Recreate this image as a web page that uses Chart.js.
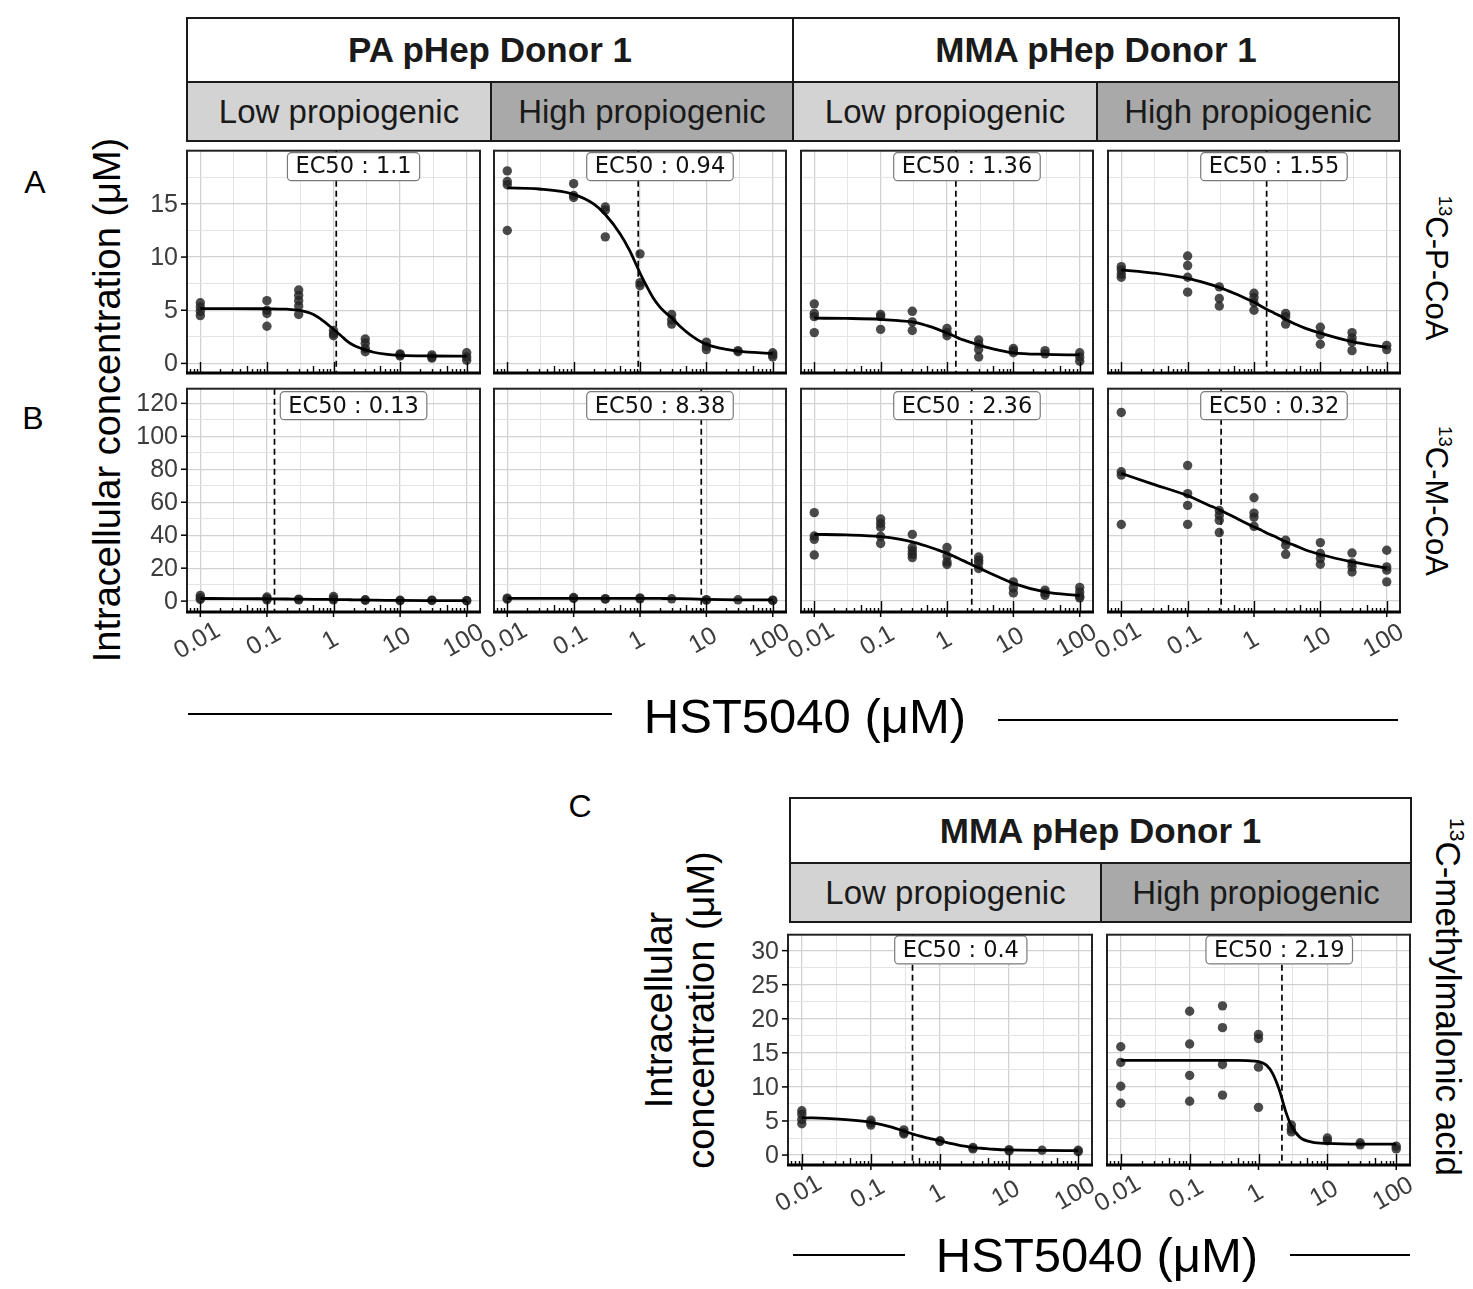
<!DOCTYPE html>
<html>
<head>
<meta charset="utf-8">
<script src="https://cdn.jsdelivr.net/npm/chart.js@4.4.1/dist/chart.umd.min.js"></script>
<style>
body { margin: 0; background: #fff; }
#fig { position: relative; width: 1473px; height: 1289px; background: #fff; overflow: hidden;
  font-family: "Liberation Sans", Arial, sans-serif; color: #000; }
.strip { position: absolute; box-sizing: border-box; border: 2px solid #1a1a1a; display: flex;
  align-items: center; justify-content: center; font-size: 33px; color: #1a1a1a; white-space: nowrap; }
.strip.top { background: #fff; font-weight: bold; font-size: 35px; }
.strip.low { background: #d3d3d3; }
.strip.high { background: #a9a9a9; }
.lbl { position: absolute; white-space: nowrap; transform: translate(-50%, -50%); line-height: 1; }
.rotl { transform: translate(-50%, -50%) rotate(-90deg); }
.rotr { transform: translate(-50%, -50%) rotate(90deg); }
.panel { position: absolute; }
.hline { position: absolute; height: 2px; background: #000; }
sup { font-size: 0.6em; vertical-align: 0.7em; line-height: 0; }
</style>
</head>
<body>
<div id="fig"></div>
<script>
// doses used in the assay and the x grid the fitted curves were read on
const doses = [0.01, 0.1, 0.3, 1, 3, 10, 30, 100];
const fitDoses = [0.01, 0.03, 0.1, 0.2, 0.3, 0.5, 0.7, 1, 1.3, 1.6, 2, 2.5, 3, 4, 6, 10, 30, 100];
const xTickValues = [0.01, 0.1, 1, 10, 100];
const xTickLabels = ['0.01', '0.1', '1', '10', '100'];
const yTicksPCoA = [0, 5, 10, 15];
const yTicksMCoA = [0, 20, 40, 60, 80, 100, 120];
const yTicksMMA = [0, 5, 10, 15, 20, 25, 30];
const ec50Values = [1.1, 0.94, 1.36, 1.55, 0.13, 8.38, 2.36, 0.32, 0.4, 2.19];

// replicates per dose (13C-P-CoA)
const paLowPCoA = [[5.7, 5.3, 4.9, 4.5], [5.9, 5.0, 4.7, 3.5], [6.9, 6.4, 5.9, 5.4, 4.6], [3.1, 2.8, 2.6],
  [2.3, 1.9, 1.4, 1.1], [0.9, 0.8, 0.7], [0.8, 0.6, 0.5], [1.0, 0.6, 0.3]];
const paHighPCoA = [[18.1, 17.1, 16.8, 12.5], [16.9, 15.8, 15.6], [14.7, 14.4, 11.9], [10.3, 7.6, 7.3],
  [4.6, 4.1, 3.7], [2.0, 1.6, 1.3], [1.2, 1.1], [1.0, 0.8, 0.6]];
const mmaLowPCoA = [[5.6, 4.7, 4.4, 2.9], [4.6, 4.4, 3.2], [4.9, 3.9, 3.1], [3.3, 2.9, 2.6],
  [2.2, 1.8, 1.3, 0.6], [1.4, 1.2, 1.0], [1.2, 0.9], [1.0, 0.6, 0.2]];
const mmaHighPCoA = [[9.1, 8.8, 8.4, 8.1], [10.1, 9.2, 8.1, 6.7], [7.2, 6.1, 5.4], [6.6, 6.2, 5.7, 5.0],
  [4.7, 4.4, 3.7], [3.4, 2.7, 1.8], [2.9, 2.4, 2.0, 1.2], [1.7, 1.3]];
// replicates per dose (13C-M-CoA)
const paLowMCoA = [[3.5, 2.0, 1.0], [2.5, 1.5, 0.8], [1.2, 0.8], [2.8, 1.5, 0.8],
  [0.8, 0.5], [0.5, 0.3], [0.6, 0.4], [0.3, 0.2]];
const paHighMCoA = [[1.8, 1.2], [2.2, 1.6], [1.5, 1.2], [2.0, 1.4], [1.4], [0.9, 0.6], [0.8], [0.6, 0.4]];
const mmaLowMCoA = [[53.7, 39.5, 37.5, 28.0], [49.8, 47.2, 44.8, 39.3, 35.0], [40.5, 32.5, 30.4, 28.4, 26.4],
  [32.5, 27.4, 23.8, 22.2], [26.8, 24.8, 23.2, 19.8], [11.7, 8.0, 5.0], [6.7, 5.0, 3.5], [8.3, 5.6, 3.0, 2.0]];
const mmaHighMCoA = [[114.5, 78.5, 76.5, 46.5], [82.3, 65.2, 58.1, 46.6], [55.0, 52.0, 49.0, 41.6],
  [62.7, 53.4, 51.0, 45.4], [36.9, 33.9, 28.4], [35.5, 28.9, 25.8, 22.4], [29.2, 23.2, 20.8, 17.7],
  [30.9, 20.8, 18.8, 11.7]];
// replicates per dose (13C-methylmalonic acid)
const mmaLowMMA = [[6.5, 6.0, 5.2, 4.6], [5.1, 4.7, 4.4], [3.7, 3.3, 3.1], [2.1, 2.0], [1.1, 0.9],
  [0.8, 0.6], [0.7], [0.7, 0.5]];
const mmaHighMMA = [[15.9, 13.6, 10.1, 7.6], [21.1, 16.3, 11.7, 7.9], [21.9, 18.7, 13.3, 8.8],
  [17.7, 17.1, 12.9, 7.0], [4.4, 3.8, 3.4], [2.5, 2.1], [1.8, 1.5], [1.3, 0.9]];

const paLowPCoAFit = [5.15, 5.15, 5.14, 5.1, 5.0, 4.6, 4.0, 3.2, 2.6, 2.1, 1.7, 1.45, 1.28, 1.05, 0.87, 0.76, 0.7, 0.68];
const paHighPCoAFit = [16.5, 16.4, 15.9, 15.0, 14.0, 12.2, 10.6, 8.5, 7.1, 6.1, 5.3, 4.7, 4.3, 3.5, 2.6, 1.8, 1.15, 0.95];
const mmaLowPCoAFit = [4.25, 4.23, 4.15, 4.0, 3.9, 3.55, 3.25, 2.85, 2.55, 2.3, 2.1, 1.9, 1.75, 1.5, 1.25, 1.0, 0.85, 0.8];
const mmaHighPCoAFit = [8.8, 8.5, 8.0, 7.5, 7.15, 6.6, 6.2, 5.75, 5.35, 5.05, 4.75, 4.45, 4.15, 3.75, 3.3, 2.85, 2.05, 1.5];
const paLowMCoAFit = [1.6, 1.55, 1.4, 1.3, 1.2, 1.1, 1.05, 1.0, 0.9, 0.85, 0.8, 0.75, 0.7, 0.6, 0.5, 0.4, 0.3, 0.25];
const paHighMCoAFit = [1.7, 1.7, 1.7, 1.7, 1.7, 1.7, 1.69, 1.68, 1.66, 1.64, 1.62, 1.58, 1.55, 1.5, 1.35, 1.1, 0.8, 0.7];
const mmaLowMCoAFit = [40.5, 40.2, 39.2, 37.5, 36.0, 33.3, 31.3, 29.0, 27.0, 25.3, 23.5, 21.6, 20.2, 17.8, 14.6, 10.8, 5.6, 3.3];
const mmaHighMCoAFit = [77.5, 71, 64, 58.5, 55.5, 51, 48, 45, 43, 41, 39.5, 37.5, 36, 34, 31, 28.3, 23.8, 20];
const mmaLowMMAFit = [5.5, 5.3, 4.8, 4.1, 3.5, 2.8, 2.45, 2.1, 1.8, 1.6, 1.4, 1.25, 1.1, 1.0, 0.85, 0.75, 0.68, 0.65];
const mmaHighMMAFit = [13.9, 13.9, 13.9, 13.9, 13.9, 13.9, 13.85, 13.7, 13.2, 12.0, 9.6, 6.3, 4.3, 2.6, 1.9, 1.7, 1.6, 1.6];

// layout (pixels)
const colsTop = [[187, 480], [494, 786], [801, 1093], [1108, 1400]];
const colsC = [[788, 1092], [1107, 1410]];
const rowA = { top: 150, bottom: 373, min: -0.9, max: 20.0, ticks: yTicksPCoA, step: 2.5, labelY: 18.5 };
const rowB = { top: 388, bottom: 612, min: -6.6, max: 128.9, ticks: yTicksMCoA, step: 10, labelY: 118.6 };
const rowC = { top: 934, bottom: 1165, min: -1.46, max: 32.34, ticks: yTicksMMA, step: 2.5, labelY: 30.1 };

const panels = [
  { v: paLowPCoA, fit: paLowPCoAFit, ec: ec50Values[0], col: colsTop[0], row: rowA, showY: true, showX: false },
  { v: paHighPCoA, fit: paHighPCoAFit, ec: ec50Values[1], col: colsTop[1], row: rowA, showY: false, showX: false },
  { v: mmaLowPCoA, fit: mmaLowPCoAFit, ec: ec50Values[2], col: colsTop[2], row: rowA, showY: false, showX: false },
  { v: mmaHighPCoA, fit: mmaHighPCoAFit, ec: ec50Values[3], col: colsTop[3], row: rowA, showY: false, showX: false },
  { v: paLowMCoA, fit: paLowMCoAFit, ec: ec50Values[4], col: colsTop[0], row: rowB, showY: true, showX: true },
  { v: paHighMCoA, fit: paHighMCoAFit, ec: ec50Values[5], col: colsTop[1], row: rowB, showY: false, showX: true },
  { v: mmaLowMCoA, fit: mmaLowMCoAFit, ec: ec50Values[6], col: colsTop[2], row: rowB, showY: false, showX: true },
  { v: mmaHighMCoA, fit: mmaHighMCoAFit, ec: ec50Values[7], col: colsTop[3], row: rowB, showY: false, showX: true },
  { v: mmaLowMMA, fit: mmaLowMMAFit, ec: ec50Values[8], col: colsC[0], row: rowC, showY: true, showX: true },
  { v: mmaHighMMA, fit: mmaHighMMAFit, ec: ec50Values[9], col: colsC[1], row: rowC, showY: false, showX: true },
];

const fig = document.getElementById('fig');

function addDiv(cls, html, css) {
  const d = document.createElement('div');
  d.className = cls;
  d.innerHTML = html;
  Object.assign(d.style, css);
  fig.appendChild(d);
  return d;
}

function strip(cls, text, x0, x1, y0, y1) {
  addDiv('strip ' + cls, text, { left: x0 + 'px', top: y0 + 'px', width: (x1 - x0) + 'px', height: (y1 - y0) + 'px' });
}

// strips
strip('top', 'PA pHep Donor 1', 186, 794, 17, 83);
strip('top', 'MMA pHep Donor 1', 792, 1400, 17, 83);
strip('low', 'Low propiogenic', 186, 492, 81, 142);
strip('high', 'High propiogenic', 490, 794, 81, 142);
strip('low', 'Low propiogenic', 792, 1098, 81, 142);
strip('high', 'High propiogenic', 1096, 1400, 81, 142);
strip('top', 'MMA pHep Donor 1', 789, 1412, 797, 864);
strip('low', 'Low propiogenic', 789, 1102, 862, 923);
strip('high', 'High propiogenic', 1100, 1412, 862, 923);

// text labels
addDiv('lbl', 'A', { left: '35px', top: '182px', fontSize: '32px' });
addDiv('lbl', 'B', { left: '33px', top: '418px', fontSize: '32px' });
addDiv('lbl', 'C', { left: '580px', top: '806px', fontSize: '32px' });
addDiv('lbl rotl', 'Intracellular concentration (\u03bcM)', { left: '107px', top: '400px', fontSize: '38px' });
addDiv('lbl rotr', '<sup>13</sup>C-P-CoA', { left: '1436px', top: '268px', fontSize: '31px' });
addDiv('lbl rotr', '<sup>13</sup>C-M-CoA', { left: '1436px', top: '501px', fontSize: '31px' });
addDiv('lbl rotr', '<sup>13</sup>C-methylmalonic acid', { left: '1448px', top: '997px', fontSize: '35px' });
addDiv('lbl rotl', 'Intracellular<br>concentration (\u03bcM)',
  { left: '680px', top: '1010px', fontSize: '38px', textAlign: 'center', lineHeight: '42px' });
addDiv('lbl', 'HST5040 (\u03bcM)', { left: '805px', top: '716px', fontSize: '49px' });
addDiv('lbl', 'HST5040 (\u03bcM)', { left: '1097px', top: '1255px', fontSize: '49px' });
addDiv('hline', '', { left: '188px', top: '713px', width: '424px' });
addDiv('hline', '', { left: '998px', top: '719px', width: '400px' });
addDiv('hline', '', { left: '793px', top: '1254px', width: '112px' });
addDiv('hline', '', { left: '1290px', top: '1254px', width: '120px' });

const gridX = [-2, -1.5, -1, -0.5, 0, 0.5, 1, 1.5, 2].map(e => Math.pow(10, e));

function makePanel(p) {
  const PL = 70, PR = 6, PT = 4, PB = 62;
  const x0 = p.col[0], x1 = p.col[1], y0 = p.row.top, y1 = p.row.bottom;
  const W = x1 - x0 + PL + PR, H = y1 - y0 + PT + PB;
  const holder = document.createElement('div');
  holder.className = 'panel';
  holder.style.left = (x0 - PL) + 'px';
  holder.style.top = (y0 - PT) + 'px';
  const cv = document.createElement('canvas');
  cv.width = W; cv.height = H;
  cv.style.width = W + 'px'; cv.style.height = H + 'px';
  holder.appendChild(cv);
  fig.appendChild(holder);

  const pts = [];
  doses.forEach((d, i) => p.v[i].forEach(val => pts.push({ x: d, y: val })));
  const fit = fitDoses.map((d, i) => ({ x: d, y: p.fit[i] }));

  const gridY = [];
  for (let v = 0; v < p.row.max - 0.01; v += p.row.step) gridY.push(v);
  const isMajorX = v => Math.abs(Math.log10(v) - Math.round(Math.log10(v))) < 1e-6;
  const isMajorY = v => p.row.ticks.includes(v);

  const deco = {
    id: 'deco',
    beforeDatasetsDraw(chart) {
      const { ctx, chartArea: a, scales: { x } } = chart;
      const px = x.getPixelForValue(p.ec);
      ctx.save();
      ctx.strokeStyle = '#000';
      ctx.lineWidth = 1.7;
      ctx.setLineDash([6, 4]);
      ctx.beginPath(); ctx.moveTo(px, a.top); ctx.lineTo(px, a.bottom); ctx.stroke();
      ctx.restore();
    },
    afterDatasetsDraw(chart) {
      const { ctx, chartArea: a, scales: { x, y } } = chart;
      ctx.save();
      // log ticks along the bottom
      ctx.strokeStyle = '#000';
      ctx.lineWidth = 1.4;
      for (let k = -3; k <= 2; k++) {
        for (let m = 1; m <= 9; m++) {
          const v = m * Math.pow(10, k);
          if (v < x.min || v > x.max) continue;
          const px = Math.round(x.getPixelForValue(v)) + 0.5;
          const len = m === 1 ? 11 : (m === 5 ? 7 : 4);
          ctx.beginPath(); ctx.moveTo(px, a.bottom); ctx.lineTo(px, a.bottom - len); ctx.stroke();
        }
      }
      // EC50 label
      const txt = 'EC50 : ' + p.ec;
      ctx.font = '22.5px "DejaVu Sans"';
      const tw = ctx.measureText(txt).width;
      const cx = x.getPixelForValue(2), cy = y.getPixelForValue(p.row.labelY);
      const bw = tw + 16, bh = 28;
      ctx.beginPath();
      ctx.roundRect(cx - bw / 2, cy - bh / 2, bw, bh, 4);
      ctx.fillStyle = '#fff'; ctx.fill();
      ctx.strokeStyle = '#7a7a7a'; ctx.lineWidth = 1.2; ctx.stroke();
      ctx.fillStyle = '#111';
      ctx.textAlign = 'center'; ctx.textBaseline = 'middle';
      ctx.fillText(txt, cx, cy + 1);
      // panel border
      ctx.strokeStyle = '#222';
      ctx.lineWidth = 2;
      ctx.strokeRect(a.left, a.top, a.right - a.left, a.bottom - a.top);
      ctx.strokeStyle = '#000';
      ctx.lineWidth = 3;
      ctx.beginPath(); ctx.moveTo(a.left - 1, a.bottom); ctx.lineTo(a.right + 1, a.bottom); ctx.stroke();
      // y axis
      if (p.showY) {
        ctx.lineWidth = 1.5;
        ctx.fillStyle = '#3d3d3d';
        ctx.font = '25px "Liberation Sans"';
        ctx.textAlign = 'right'; ctx.textBaseline = 'middle';
        p.row.ticks.forEach(v => {
          const py = y.getPixelForValue(v);
          ctx.beginPath(); ctx.moveTo(a.left - 6, py); ctx.lineTo(a.left, py); ctx.stroke();
          ctx.fillText(String(v), a.left - 9, py + 1);
        });
      }
      // x axis
      if (p.showX) {
        ctx.lineWidth = 1.5;
        ctx.fillStyle = '#3d3d3d';
        ctx.font = '25px "Liberation Sans"';
        ctx.textAlign = 'center'; ctx.textBaseline = 'middle';
        xTickValues.forEach((v, i) => {
          const px = x.getPixelForValue(v);
          ctx.beginPath(); ctx.moveTo(px, a.bottom); ctx.lineTo(px, a.bottom + 5); ctx.stroke();
          ctx.save();
          ctx.translate(px - 3, a.bottom + 29);
          ctx.rotate(-Math.PI / 6);
          ctx.fillText(xTickLabels[i], 0, 0);
          ctx.restore();
        });
      }
      ctx.restore();
    }
  };

  new Chart(cv, {
    type: 'scatter',
    data: {
      datasets: [
        { type: 'line', data: fit, borderColor: '#000', borderWidth: 2.8, pointRadius: 0,
          cubicInterpolationMode: 'monotone', fill: false, order: 1 },
        { data: pts, backgroundColor: 'rgba(35,35,35,0.82)', borderWidth: 0, pointRadius: 4.7, order: 2 }
      ]
    },
    options: {
      responsive: false,
      animation: false,
      devicePixelRatio: 1,
      layout: { padding: { left: PL, right: PR, top: PT, bottom: PB } },
      plugins: { legend: { display: false }, tooltip: { enabled: false } },
      scales: {
        x: {
          type: 'logarithmic', min: Math.pow(10, -2.2), max: Math.pow(10, 2.2),
          afterBuildTicks: s => { s.ticks = gridX.map(v => ({ value: v })); },
          afterFit: s => { s.height = 0; },
          ticks: { display: false },
          border: { display: false },
          grid: { drawTicks: false,
            color: c => isMajorX(c.tick.value) ? '#d2d2d2' : '#e4e4e4',
            lineWidth: c => isMajorX(c.tick.value) ? 1.3 : 1 }
        },
        y: {
          type: 'linear', min: p.row.min, max: p.row.max,
          afterBuildTicks: s => { s.ticks = gridY.map(v => ({ value: v })); },
          afterFit: s => { s.width = 0; },
          ticks: { display: false },
          border: { display: false },
          grid: { drawTicks: false,
            color: c => isMajorY(c.tick.value) ? '#d2d2d2' : '#e4e4e4',
            lineWidth: c => isMajorY(c.tick.value) ? 1.3 : 1 }
        }
      }
    },
    plugins: [deco]
  });
}

panels.forEach(makePanel);
</script>
</body>
</html>
